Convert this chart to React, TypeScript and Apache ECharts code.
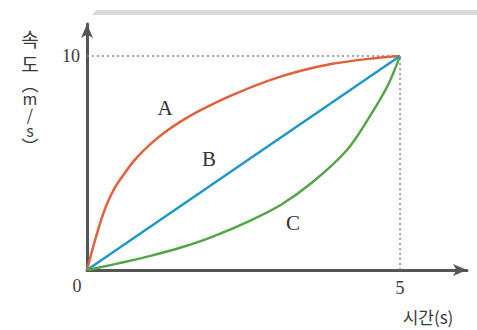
import React, { useEffect, useRef } from "react";
import * as echarts from "echarts";

const timeA = [0, 0.1, 0.2, 0.3, 0.4, 0.5, 0.75, 1, 1.25, 1.5, 1.8, 2.3, 2.9, 3.4, 3.9, 4.5, 5];
const speedA = [0, 1.1, 2.1, 2.95, 3.6, 4.1, 5.1, 5.85, 6.45, 6.95, 7.45, 8.15, 8.85, 9.3, 9.63, 9.87, 10];
const timeB = [0, 5];
const speedB = [0, 10];
const timeC = [0, 0.25, 0.5, 1, 1.5, 2, 2.6, 3.1, 3.6, 4.15, 4.5, 4.8, 5];
const speedC = [0, 0.15, 0.31, 0.65, 1.05, 1.55, 2.3, 3.05, 4.1, 5.6, 7.1, 8.6, 10];
const guideTime = [0, 5, 5];
const guideSpeed = [10, 10, 0];
const xTicks = [5];
const yTicks = [10];
const yTitle = "{k|속}\n{k|도}\n{p|︵}\n{l|m}\n{l|/}\n{l|s}\n{p|︶}";

const zip = (xs: number[], ys: number[]) => xs.map((x, i) => [x, ys[i]]);

export default function App() {
  const ref = useRef<HTMLDivElement>(null);
  useEffect(() => {
    if (!ref.current) return;
    const chart = echarts.init(ref.current, undefined, { renderer: "svg" });
    const serif = "'Liberation Serif', 'DejaVu Serif', serif";
    const cjk = "'Noto Sans CJK KR', sans-serif";
    const axisColor = "#555";
    chart.setOption({
      animation: false,
      backgroundColor: "#fff",
      grid: { left: 87, right: 10, top: 24, bottom: 60 },
      xAxis: {
        type: "value",
        min: 0,
        max: 6.07,
        splitLine: { show: false },
        axisTick: { show: false },
        axisLine: {
          show: true,
          symbol: ["none", "arrow"],
          symbolSize: [9, 14],
          lineStyle: { color: axisColor, width: 3 },
        },
        axisLabel: {
          customValues: xTicks,
          margin: 9,
          fontFamily: serif,
          fontSize: 18,
          color: "#3a3a3a",
        },
      },
      yAxis: {
        type: "value",
        min: 0,
        max: 11.5,
        splitLine: { show: false },
        axisTick: { show: false },
        axisLine: {
          show: true,
          symbol: ["none", "arrow"],
          symbolSize: [9, 14],
          lineStyle: { color: axisColor, width: 3 },
        },
        axisLabel: {
          customValues: yTicks,
          margin: 7,
          fontFamily: serif,
          fontSize: 18,
          color: "#3a3a3a",
        },
      },
      series: [
        {
          type: "line",
          data: zip(guideTime, guideSpeed),
          showSymbol: false,
          lineStyle: { color: "#888", width: 1.5, type: [2, 3] },
          z: 1,
        },
        {
          type: "line",
          data: zip(timeA, speedA),
          smooth: 0.3,
          showSymbol: false,
          lineStyle: { color: "#e2603c", width: 2.5 },
          z: 3,
        },
        {
          type: "line",
          data: zip(timeB, speedB),
          showSymbol: false,
          lineStyle: { color: "#1e98c8", width: 2.5 },
          z: 3,
        },
        {
          type: "line",
          data: zip(timeC, speedC),
          smooth: 0.3,
          showSymbol: false,
          lineStyle: { color: "#52a646", width: 2.5 },
          z: 3,
        },
      ],
      graphic: [
        {
          type: "polygon",
          shape: { points: [[96, 10], [477, 10], [477, 15], [92, 15]] },
          style: { fill: "#d9d9d9" },
        },
        {
          type: "text",
          x: 77,
          y: 286,
          style: { text: "0", font: `18px ${serif}`, fill: "#3a3a3a", align: "center", verticalAlign: "middle" },
        },
        {
          type: "text",
          x: 428,
          y: 316,
          style: { text: "시간(s)", font: `17px ${cjk}`, fill: "#3a3a3a", align: "center", verticalAlign: "middle" },
        },
        {
          type: "text",
          x: 30,
          y: 26,
          style: {
            text: yTitle,
            fill: "#3a3a3a",
            align: "center",
            verticalAlign: "top",
            rich: {
              k: { fontFamily: cjk, fontSize: 19, lineHeight: 25, fill: "#3a3a3a", align: "center" },
              p: { fontFamily: cjk, fontSize: 17, lineHeight: 14, fill: "#3a3a3a", align: "center" },
              l: { fontFamily: cjk, fontSize: 16, lineHeight: 16, fill: "#3a3a3a", align: "center" },
            },
          },
        },
        {
          type: "text",
          x: 165,
          y: 108,
          style: { text: "A", font: `21px ${serif}`, fill: "#333", align: "center", verticalAlign: "middle" },
        },
        {
          type: "text",
          x: 209,
          y: 159,
          style: { text: "B", font: `21px ${serif}`, fill: "#333", align: "center", verticalAlign: "middle" },
        },
        {
          type: "text",
          x: 293,
          y: 223,
          style: { text: "C", font: `21px ${serif}`, fill: "#333", align: "center", verticalAlign: "middle" },
        },
      ],
    });
    return () => chart.dispose();
  }, []);
  return <div ref={ref} style={{ width: 477, height: 330, position: "absolute", left: 0, top: 0 }} />;
}
